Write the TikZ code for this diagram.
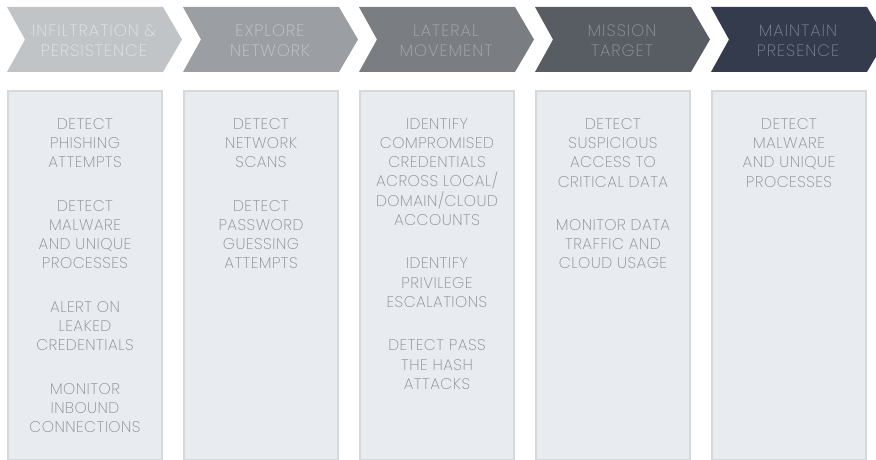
\documentclass[tikz,border=0pt]{standalone}
\usepackage{fontspec}
\setmainfont{Poppins ExtraLight}
\newfontfamily\stagefont[LetterSpace=6]{Poppins ExtraLight}
\newfontfamily\colfont[LetterSpace=3]{Poppins ExtraLight}
\definecolor{c1}{HTML}{C1C4C7}
\definecolor{c2}{HTML}{9B9EA2}
\definecolor{c3}{HTML}{7A7D82}
\definecolor{c4}{HTML}{575D63}
\definecolor{c5}{HTML}{343B4D}
\definecolor{t1}{HTML}{E2E4E6}
\definecolor{t2}{HTML}{C6C8CB}
\definecolor{t3}{HTML}{A7AAAE}
\definecolor{t4}{HTML}{9297A0}
\definecolor{t5}{HTML}{7E8597}
\definecolor{boxfill}{HTML}{E8EBEF}
\definecolor{boxline}{HTML}{D6D9DC}
\definecolor{boxtext}{HTML}{8A8D91}
\tikzset{
  stage/.style={inner sep=0pt, align=center, font=\stagefont\fontsize{16.5}{20}\selectfont},
  colbox/.style={fill=boxfill, draw=boxline, line width=2pt},
  coltext/.style={inner sep=0pt, align=center, anchor=north, text=boxtext, font=\colfont\fontsize{15.5}{19.3}\selectfont},
}
\begin{document}
\begin{tikzpicture}[x=1pt,y=-1pt]
\useasboundingbox (0,0) rectangle (876,460);
\clip (0,0) rectangle (876,460);
\foreach \i/\fc/\tc/\txt in {0/c1/t1/{INFILTRATION \&\\PERSISTENCE},1/c2/t2/{EXPLORE\\NETWORK},2/c3/t3/{LATERAL\\MOVEMENT},3/c4/t4/{MISSION\\TARGET},4/c5/t5/{MAINTAIN\\PRESENCE}}{
  \pgfmathsetmacro{\xo}{7+176*\i}
  \fill[\fc] (\xo,7) -- (\xo+156,7) -- (\xo+175,39.5) -- (\xo+156,72) -- (\xo,72) -- (\xo+18,39.5) -- cycle;
  \node[stage, text=\tc] (h\i) at (\xo+87,41) {\txt};
  \draw[colbox] (\xo+1,91) rectangle (\xo+155,460);
  \coordinate (b\i) at (\xo+78,118);
}
\node[coltext] (l0) at (b0) {DETECT\\PHISHING\\ATTEMPTS\\[24pt]DETECT\\MALWARE\\AND UNIQUE\\PROCESSES\\[24pt]ALERT ON\\LEAKED\\CREDENTIALS\\[24pt]MONITOR\\INBOUND\\CONNECTIONS};
\node[coltext] (l1) at (b1) {DETECT\\NETWORK\\SCANS\\[24pt]DETECT\\PASSWORD\\GUESSING\\ATTEMPTS};
\node[coltext] (l2) at (b2) {IDENTIFY\\COMPROMISED\\CREDENTIALS\\ACROSS LOCAL/\\DOMAIN/CLOUD\\ACCOUNTS\\[24pt]IDENTIFY\\PRIVILEGE\\ESCALATIONS\\[24pt]DETECT PASS\\THE HASH\\ATTACKS};
\node[coltext] (l3) at (b3) {DETECT\\SUSPICIOUS\\ACCESS TO\\CRITICAL DATA\\[24pt]MONITOR DATA\\TRAFFIC AND\\CLOUD USAGE};
\node[coltext] (l4) at (b4) {DETECT\\MALWARE\\AND UNIQUE\\PROCESSES};
\end{tikzpicture}
\end{document}
